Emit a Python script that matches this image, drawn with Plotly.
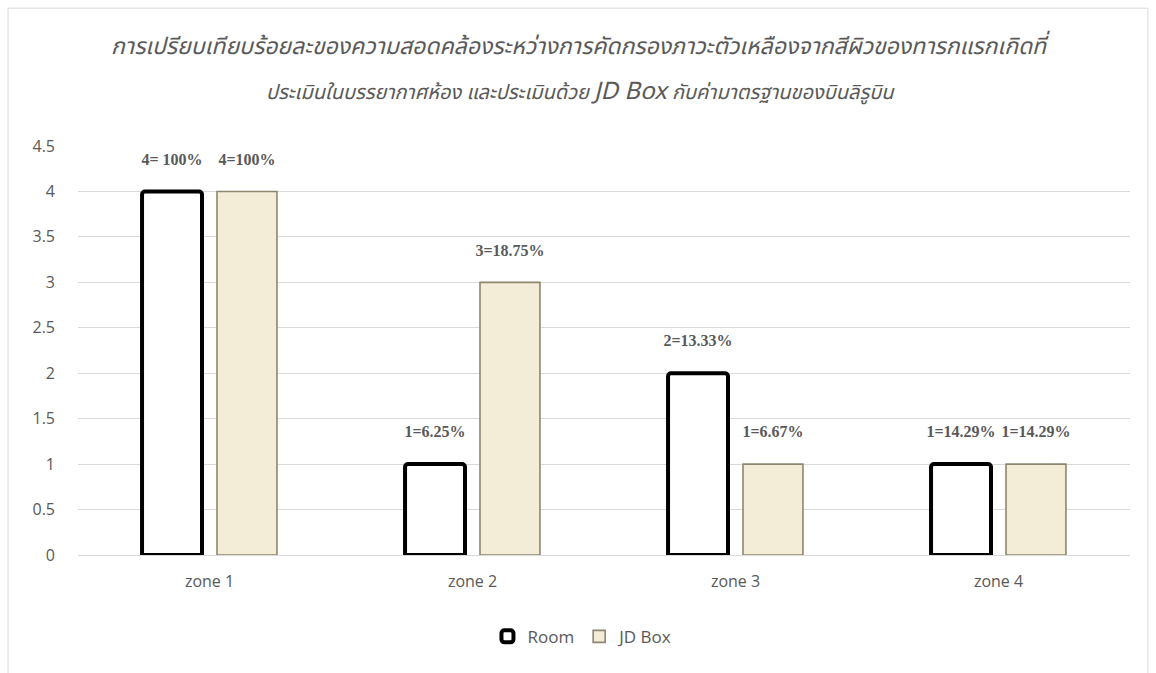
import plotly.graph_objects as go

categories = ["zone 1", "zone 2", "zone 3", "zone 4"]
room_values = [4, 1, 2, 1]
jd_values = [4, 3, 1, 1]
room_labels = ["4= 100%", "1=6.25%", "2=13.33%", "1=14.29%"]
jd_labels = ["4=100%", "3=18.75%", "1=6.67%", "1=14.29%"]
y_ticks = [0, 0.5, 1, 1.5, 2, 2.5, 3, 3.5, 4, 4.5]
y_tick_text = ["0", "0.5", "1", "1.5", "2", "2.5", "3", "3.5", "4", "4.5"]
title_line1 = "การเปรียบเทียบร้อยละของความสอดคล้องระหว่างการคัดกรองภาวะตัวเหลืองจากสีผิวของทารกแรกเกิดที่"
title_line2 = ("ประเมินในบรรยากาศห้อง และประเมินด้วย <span style='font-size:24px'>JD Box</span> "
               "กับค่ามาตรฐานของบินลิรูบิน")

grey = "#595959"
label_font = dict(family="Liberation Serif, Times New Roman, serif", size=16, color=grey)
axis_font = dict(family="Open Sans, Noto Sans, sans-serif", size=16, color=grey)
thai_font = "Noto Sans Thai, Noto Sans, Noto Sans CJK SC, sans-serif"

fig = go.Figure()
fig.add_trace(go.Bar(
    name="Room", x=categories, y=room_values,
    text=room_labels, texttemplate="<b>%{text}</b><br> ",
    textposition="outside", constraintext="none", cliponaxis=False,
    textfont=label_font,
    marker=dict(color="#FFFFFF", line=dict(color="#000000", width=4), cornerradius=3),
))
fig.add_trace(go.Bar(
    name="JD Box", x=categories, y=jd_values,
    text=jd_labels, texttemplate="<b>%{text}</b><br> ",
    textposition="outside", constraintext="none", cliponaxis=False,
    textfont=label_font,
    marker=dict(color="#F3ECD7", line=dict(color="#8F8670", width=1.6)),
))

fig.update_layout(
    width=1156, height=673,
    paper_bgcolor="white", plot_bgcolor="white",
    margin=dict(l=78, r=26, t=146, b=118),
    barmode="group", bargap=0.43, bargroupgap=0.2,
    showlegend=True,
    legend=dict(orientation="h", x=0.48, xanchor="center", y=-0.2, yanchor="middle",
                font=dict(family="Open Sans, Noto Sans, sans-serif", size=17, color=grey),
                itemwidth=30, traceorder="normal"),
    xaxis=dict(tickfont=axis_font, showgrid=False, showline=True, linecolor="#D9D9D9",
               linewidth=1, ticks="", ticklabelstandoff=12),
    yaxis=dict(range=[0, 4.5], tickvals=y_ticks, ticktext=y_tick_text, tickfont=axis_font,
               showgrid=True, gridcolor="#D9D9D9", gridwidth=1, zeroline=False,
               showline=False, ticks="", ticklabelstandoff=22),
    annotations=[
        dict(text="<i>" + title_line1 + "</i>", xref="paper", yref="paper", x=0.4775, y=1.242,
             xanchor="center", yanchor="middle", showarrow=False,
             font=dict(family=thai_font, size=23, color=grey)),
        dict(text="<i>" + title_line2 + "</i>", xref="paper", yref="paper", x=0.4775, y=1.132,
             xanchor="center", yanchor="middle", showarrow=False,
             font=dict(family=thai_font, size=20, color=grey)),
    ],
    shapes=[
        dict(type="rect", xref="paper", yref="paper", x0=-0.0665, x1=1.017, y0=-0.35, y1=1.337,
             line=dict(color="#D9D9D9", width=1), fillcolor="rgba(0,0,0,0)", layer="below"),
    ],
)

fig.write_html("out.html")
